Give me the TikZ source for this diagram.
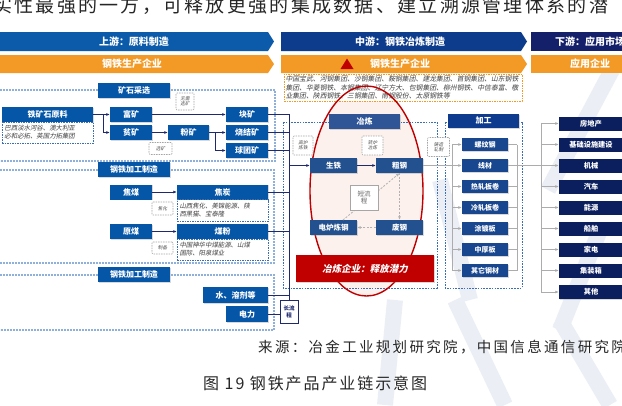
\documentclass[tikz,border=0pt]{standalone}
\usepackage{fontspec}
\setmainfont{Noto Sans CJK SC}
\newfontfamily\cjkit[FakeSlant=0.2]{Noto Sans CJK SC}
\newfontfamily\songA[LetterSpace=12]{Noto Sans CJK SC}
\newfontfamily\songB[LetterSpace=16]{Noto Sans CJK SC}
\usetikzlibrary{arrows.meta,shadows}
\definecolor{upband}{HTML}{0B5BAA}
\definecolor{midband}{HTML}{0E3C8C}
\definecolor{downband}{HTML}{15206A}
\definecolor{orng}{HTML}{F29A25}
\definecolor{boxblue}{HTML}{0656A8}
\definecolor{yellbox}{HTML}{2F5597}
\definecolor{midbox}{HTML}{23508F}
\definecolor{probox}{HTML}{18468F}
\definecolor{jgbox}{HTML}{0E3B8E}
\definecolor{downbox}{HTML}{0B1E5E}
\definecolor{navyline}{HTML}{1F2A6E}
\definecolor{regblue}{HTML}{8FB0DA}
\definecolor{dashblue}{HTML}{3C6EB4}
\definecolor{redc}{HTML}{C00000}
\definecolor{ellfill}{HTML}{FCF1EC}
\definecolor{wmc}{HTML}{EBEFF5}
\tikzset{
 bx/.style={inner sep=0pt, text=white, align=center, drop shadow={shadow xshift=0.8pt, shadow yshift=-0.8pt, opacity=0.3}},
 ubox/.style={bx, fill=boxblue, minimum width=42pt, minimum height=15pt, font=\bfseries\fontsize{8}{9}\selectfont},
 ybox/.style={bx, fill=yellbox, minimum width=71pt, minimum height=15pt, font=\bfseries\fontsize{8}{9}\selectfont},
 mbox/.style={bx, fill=midbox, minimum width=47pt, minimum height=15pt, font=\bfseries\fontsize{7.5}{8}\selectfont},
 pbox/.style={bx, fill=probox, minimum width=46pt, minimum height=13pt, font=\bfseries\fontsize{7}{8}\selectfont},
 gbox/.style={bx, fill=jgbox, minimum width=71pt, minimum height=14pt, font=\bfseries\fontsize{8}{9}\selectfont},
 dbox/.style={bx, fill=downbox, minimum width=64pt, minimum height=14pt, font=\bfseries\fontsize{7.2}{8}\selectfont},
 brand/.style={draw=dashblue, dash pattern=on 1.5pt off 1pt, line width=0.7pt, fill=white, inner sep=1pt, font=\cjkit\fontsize{6.4}{8}\selectfont, text=black!75, align=left},
 lab/.style={draw=gray!70, dash pattern=on 1.5pt off 1pt, line width=0.6pt, fill=white, inner sep=0.5pt, font=\cjkit\fontsize{4.6}{5.4}\selectfont, text=black!70, align=center, rounded corners=1pt},
 region/.style={draw=regblue, line width=1.3pt, dash pattern=on 1.8pt off 1.2pt},
 mdash/.style={draw=dashblue, line width=0.8pt, dash pattern=on 1.6pt off 1.2pt},
 hdr/.style={text=white, font=\bfseries\fontsize{10}{11}\selectfont, inner sep=0pt},
 uarr/.style={draw=navyline, line width=0.8pt, -{Latex[length=3.5pt,width=3pt]}},
 uline/.style={draw=navyline, line width=0.8pt},
 garr/.style={draw=gray!65, line width=0.8pt, -{Latex[length=3.5pt,width=3pt]}},
 gline/.style={draw=gray!65, line width=0.8pt},
 gdash/.style={draw=gray!60, line width=0.8pt, dash pattern=on 2pt off 1.5pt, -{Latex[length=3.5pt,width=3pt]}},
 wm/.style={draw=wmc, line width=16pt},
}
\begin{document}
\begin{tikzpicture}[x=1pt,y=-1pt]
\useasboundingbox (0,0) rectangle (622,405);
\fill[white] (0,0) rectangle (622,405);
% watermark
\draw[wm] (612,70) -- (548,190);
\draw[wm] (440,180) -- (470,300);
\draw[wm] (395,300) -- (385,405);
\draw[wm] (455,300) -- (505,405);
\draw[wm] (560,320) -- (610,405);
\draw[wm] (600,230) -- (560,330);
% top text
\node[anchor=base west, inner sep=0pt, font=\songA\fontsize{19}{19}\selectfont, text=black!85] (toptext) at (-7,12) {实性最强的一方，可释放更强的集成数据、建立溯源管理体系的潜};
% header bands
\fill[upband] (0,32) -- (268,32) -- (274,41.5) -- (268,51) -- (0,51) -- cycle;
\fill[midband] (281,32) -- (521,32) -- (527,41.5) -- (521,51) -- (281,51) -- cycle;
\fill[downband] (531,32) -- (640,32) -- (640,51) -- (531,51) -- cycle;
\node[hdr] (h1) at (134,41.5) {上游：原料制造};
\node[hdr] (h2) at (400,41.5) {中游：钢铁冶炼制造};
\node[hdr, anchor=west] (h3) at (555,41.5) {下游：应用市场};
\fill[orng] (0,55) -- (268,55) -- (274,64) -- (268,73) -- (0,73) -- cycle;
\fill[orng] (281,55) -- (521,55) -- (527,64) -- (521,73) -- (281,73) -- cycle;
\fill[orng] (531,55) -- (640,55) -- (640,73) -- (531,73) -- cycle;
\node[hdr] (o1) at (132,64) {钢铁生产企业};
\fill[redc] (340.5,69) -- (353.5,69) -- (347,58.5) -- cycle;
\node[hdr] (o2) at (400,64) {钢铁生产企业};
\node[hdr] (o3) at (590,64) {应用企业};
% ellipse fill
\fill[ellfill] (366.5,191) ellipse [x radius=56.5pt, y radius=105pt];
% company box
\node[draw=orng, dash pattern=on 1.5pt off 1pt, line width=0.7pt, fill=white, inner sep=1.5pt, minimum width=238pt, minimum height=27pt, text width=235pt, align=left, font=\cjkit\fontsize{6.85}{8.4}\selectfont, text=black!75] (cmp) at (403,87.5) {中国宝武、河钢集团、沙钢集团、鞍钢集团、建龙集团、首钢集团、山东钢铁\\集团、华菱钢铁、本钢集团、辽宁方大、包钢集团、柳州钢铁、中信泰富、敬\\业集团、陕西钢铁、三钢集团、南钢股份、太原钢铁等};
% regions
\draw[region] (0,90) -- (275,90) -- (275,161) -- (0,161);
\draw[region] (0,170) -- (274,170) -- (274,263) -- (0,263);
\draw[region] (0,275) -- (274,275) -- (274,330) -- (0,330);
\draw[mdash] (283,122) rectangle (437,288);
\draw[mdash] (445,122) rectangle (522,288);
% ellipse outline
\draw[redc, line width=1.4pt] (366.5,191) ellipse [x radius=56.5pt, y radius=105pt];
% upstream nodes
\node[ubox, minimum width=72pt] (kscx) at (134,90.5) {矿石采选};
\node[ubox, minimum width=91pt] (tksy) at (47.5,114.5) {铁矿石原料};
\node[brand, minimum width=91pt, minimum height=21pt, text width=86pt] (tksb) at (47.5,132.5) {巴西淡水河谷、澳大利亚\\必和必拓、英国力拓集团};
\node[ubox] (fk) at (131,114.5) {富矿};
\node[ubox] (pk) at (131,132.5) {贫矿};
\node[ubox, minimum width=41pt] (fenk) at (188.5,132.5) {粉矿};
\node[ubox] (kk) at (247,114.5) {块矿};
\node[ubox] (sjk) at (247,132.5) {烧结矿};
\node[ubox] (qtk) at (247,150.5) {球团矿};
\node[lab, minimum width=18pt, minimum height=17pt] (l1) at (185,101.5) {无需\\选矿};
\node[lab, minimum width=23pt, minimum height=12pt] (l2) at (160.5,148.5) {选矿};
\node[ubox, minimum width=72pt] (jg1) at (134,169.5) {钢铁加工制造};
\node[ubox] (jm) at (131,192) {焦煤};
\node[ubox] (ym) at (131,231.5) {原煤};
\node[ubox, minimum width=91pt] (jt) at (222.5,192) {焦炭};
\node[brand, minimum width=91pt, minimum height=22pt, text width=86pt] (jtb) at (222.5,210.5) {山西焦化、美锦能源、陕\\西黑猫、宝泰隆};
\node[ubox, minimum width=91pt] (mf) at (222.5,231.5) {煤粉};
\node[brand, minimum width=91pt, minimum height=21pt, text width=86pt] (mfb) at (222.5,249.5) {中国神华中煤能源、山煤\\国际、阳泉煤业};
\node[lab, minimum width=21pt, minimum height=13pt] (l3) at (162.5,208.5) {焦化};
\node[lab, minimum width=21pt, minimum height=12pt] (l4) at (162.5,248) {制备};
\node[ubox, minimum width=72pt] (jg2) at (134,274.5) {钢铁加工制造};
\node[ubox, minimum width=65pt, minimum height=16pt] (srj) at (235.5,295) {水、溶剂等};
\node[ubox, minimum height=16pt] (dl) at (247,314) {电力};
\node[draw=navyline, fill=white, line width=0.8pt, minimum width=18pt, minimum height=23pt, inner sep=0pt, font=\bfseries\fontsize{5.5}{6.5}\selectfont, text=navyline, align=center] (clc) at (289,312) {长流\\程};
% upstream connectors
\coordinate (s1) at (103,114.5);
\coordinate (s2) at (215,132.5);
\draw[uarr] (tksy.east) -- (fk.west);
\draw[uarr] (s1) |- (pk.west);
\draw[uarr] (fk.east) -- (kk.west);
\draw[uarr] (pk.east) -- (fenk.west);
\draw[uarr] (fenk.east) -- (sjk.west);
\draw[uarr] (s2) |- (qtk.west);
\draw[uarr] (jm.east) -- (jt.west);
\draw[uarr] (ym.east) -- (mf.west);
\draw[uline] (kk.east) -- (kk.east -| clc.north) -- (clc.north);
\draw[uline] (sjk.east) -- (sjk.east -| clc.north);
\draw[uline] (qtk.east) -- (qtk.east -| clc.north);
\draw[uline] (jt.east) -- (jt.east -| clc.north);
\draw[uline] (mf.east) -- (mf.east -| clc.north);
\draw[uline] (srj.east) -- (srj.east -| clc.north);
\draw[uline] (dl.east) -- (dl.east -| clc.west);
% midstream nodes
\node[ybox] (yl) at (364.5,121.5) {冶炼};
\node[mbox] (st) at (333.5,165.5) {生铁};
\node[mbox] (cg) at (399.5,165.5) {粗钢};
\node[mbox] (dllg) at (333.5,227.5) {电炉炼钢};
\node[mbox] (fg) at (399.5,227.5) {废钢};
\coordinate (d1) at (343,220);
\draw[gdash] (d1) -- (cg.south);
\node[draw=gray!70, fill=white, line width=0.8pt, minimum width=28pt, minimum height=25pt, inner sep=0pt, font=\fontsize{6.5}{7.5}\selectfont, text=black!60, align=center] (dlc) at (364,197.5) {短流\\程};
\draw[gdash] (cg.south) -- (fg.north);
\draw[gdash] (fg.west) -- (dllg.east);
\draw[uarr] (st.west -| clc.north) -- (st.west);
\draw[uarr] (st.east) -- (cg.west);
\node[lab, minimum width=20pt, minimum height=19pt] (l5) at (303,145.5) {高炉\\炼铁};
\node[lab, minimum width=21pt, minimum height=19pt] (l6) at (372.5,145.5) {转炉\\冶炼};
\node[fill=redc, minimum width=138pt, minimum height=27pt, inner sep=0pt, text=white, font=\cjkit\bfseries\fontsize{9.5}{10}\selectfont, drop shadow={shadow xshift=0.8pt, shadow yshift=-0.8pt, opacity=0.3}] (rbx) at (365,268.5) {冶炼企业：释放潜力};
% processing
\node[gbox] (jgb) at (483.5,121) {加工};
\node[pbox] (pr1) at (485,144.5) {螺纹钢};
\node[pbox] (pr2) at (485,165.5) {线材};
\node[pbox] (pr3) at (485,186.5) {热轧板卷};
\node[pbox] (pr4) at (485,207.5) {冷轧板卷};
\node[pbox] (pr5) at (485,228.5) {涂镀板};
\node[pbox] (pr6) at (485,249.5) {中厚板};
\node[pbox] (pr7) at (485,270.5) {其它钢材};
\node[lab, minimum width=22pt, minimum height=19pt] (l7) at (438.5,147) {铸造\\轧制};
\coordinate (lb) at (452,144.5);
\coordinate (rb) at (517,144.5);
\coordinate (db) at (541,123.5);
\draw[gline] (pr1.west -| lb) -- (pr7.west -| lb);
\draw[gline] (pr1.east -| rb) -- (pr7.east -| rb);
\draw[garr] (cg.east) -- (pr2.west);
\foreach \p in {pr1,pr3,pr4,pr5,pr6,pr7} {
  \draw[garr] (\p.west -| lb) -- (\p.west);
  \draw[gline] (\p.east) -- (\p.east -| rb);
}
% downstream
\node[dbox] (ds1) at (591,123.5) {房地产};
\node[dbox] (ds2) at (591,144.5) {基础设施建设};
\node[dbox] (ds3) at (591,165.5) {机械};
\node[dbox] (ds4) at (591,186.5) {汽车};
\node[dbox] (ds5) at (591,207.5) {能源};
\node[dbox] (ds6) at (591,228.5) {船舶};
\node[dbox] (ds7) at (591,249.5) {家电};
\node[dbox] (ds8) at (591,270.5) {集装箱};
\node[dbox] (ds9) at (591,292) {其他};
\draw[gline] (ds1.west -| db) -- (ds9.west -| db);
\draw[garr] (pr2.east) -- (ds3.west);
\foreach \d in {ds1,ds2,ds4,ds5,ds6,ds7,ds8,ds9} {
  \draw[garr] (\d.west -| db) -- (\d.west);
}
% captions
\node[anchor=base west, inner sep=0pt, font=\songB\fontsize{14.5}{15}\selectfont, text=black!85] (src) at (258,352) {来源：冶金工业规划研究院，中国信息通信研究院};
\node[anchor=base west, inner sep=0pt, font=\songA\fontsize{16}{16}\selectfont, text=black!85] (cap) at (203,389) {图 19 钢铁产品产业链示意图};
\end{tikzpicture}
\end{document}
